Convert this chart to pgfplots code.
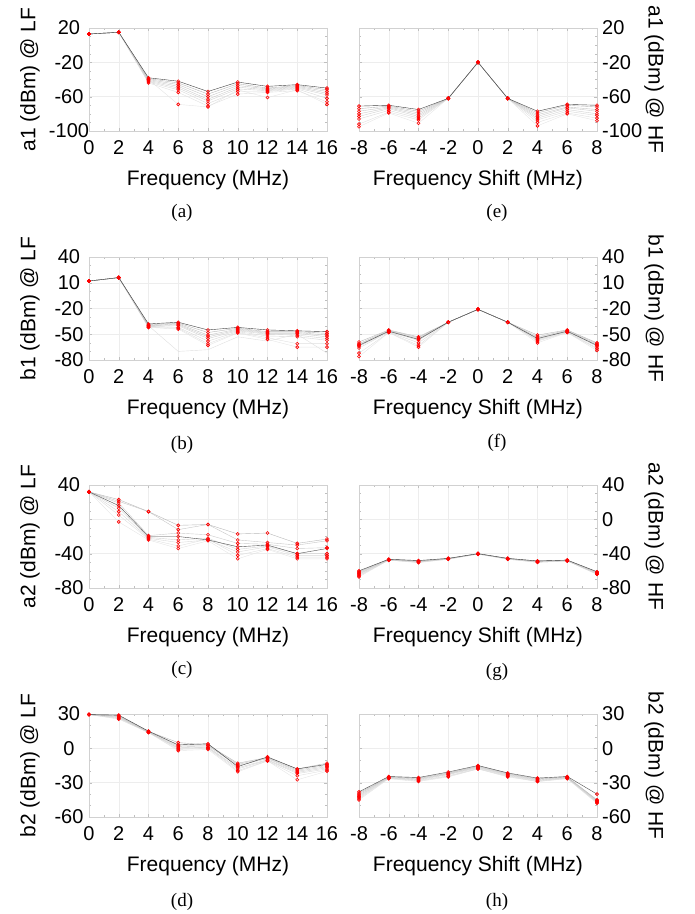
\documentclass[border=0pt]{standalone}
\usepackage{fontspec}
\setmainfont{Liberation Sans}
\newfontfamily\capfont{Liberation Serif}
\usepackage{pgfplots}
\pgfplotsset{compat=1.18}

\pgfplotsset{
  s/.style={color=#1, line width=0.4pt, mark=o, mark size=1.5pt,
    mark options={color=red, line width=0.6pt}},
  nm/.style={color=#1, line width=0.4pt, mark=none},
  panel/.style={
    scale only axis, width=238pt, height=103pt, anchor=south west, clip=false,
    axis line style={black!18}, grid=major, major grid style={black!7},
    tick style={black!25}, tick align=inside,
    major tick length=3pt, minor tick length=2pt, minor x tick num=1,
    ticklabel style={font=\fontsize{20}{22}\selectfont},
    /pgf/number format/assume math mode=true,
    label style={font=\fontsize{21}{24}\selectfont},
    xticklabel style={yshift=-6pt},
    xlabel style={at={(axis description cs:0.5,0)}, anchor=center, yshift=-49pt},
  },
  lf/.style={panel, xmin=0, xmax=16, xtick={0,2,...,16},
    xlabel={Frequency (MHz)},
    yticklabel style={anchor=center, xshift=-20pt},
    ylabel style={at={(axis description cs:-0.248,0.5)}, anchor=center}},
  hf/.style={panel, xmin=-8, xmax=8, xtick={-8,-6,...,8},
    xlabel={Frequency Shift (MHz)}, yticklabel pos=right,
    yticklabel style={anchor=west, inner sep=0pt, xshift=5pt},
    ylabel style={at={(axis description cs:1.24,0.5)}, anchor=center, rotate=180}},
  ra/.style={ymin=-100, ymax=20, ytick={20,-20,-60,-100}, minor y tick num=3},
  rb/.style={ymin=-80, ymax=40, ytick={40,10,-20,-50,-80}, minor y tick num=2},
  rc/.style={ymin=-80, ymax=40, ytick={40,0,-40,-80}, minor y tick num=3},
  rd/.style={ymin=-60, ymax=30, ytick={30,0,-30,-60}, minor y tick num=2},
}
\newcommand{\lfx}[2]{\addplot[s=#1] coordinates {#2};}

\begin{document}
\begin{tikzpicture}
\useasboundingbox (0,0) rectangle (695pt,914pt);

% (a) a1 @ LF
\begin{axis}[lf, ra, at={(89pt,783pt)}, ylabel={a1 (dBm) @ LF}]
\lfx{gray!20}{(0,13)(2,15)(4,-40)(6,-69)(8,-72)(10,-52)(12,-61)(14,-52)(16,-69)}
\lfx{gray!25}{(0,13)(2,15)(4,-44)(6,-55)(8,-71)(10,-57)(12,-55)(14,-53)(16,-66)}
\lfx{gray!30}{(0,13)(2,15)(4,-43)(6,-52)(8,-68)(10,-54)(12,-54)(14,-51)(16,-62)}
\lfx{gray!35}{(0,13)(2,15)(4,-42)(6,-50)(8,-65)(10,-51)(12,-53)(14,-50)(16,-58)}
\lfx{gray!40}{(0,13)(2,15)(4,-41)(6,-48)(8,-63)(10,-49)(12,-52)(14,-49)(16,-56)}
\lfx{gray!45}{(0,13)(2,15)(4,-40)(6,-46)(8,-60)(10,-47)(12,-51)(14,-48)(16,-54)}
\lfx{gray!55}{(0,13)(2,15)(4,-39)(6,-44)(8,-57)(10,-45)(12,-50)(14,-47)(16,-52)}
\lfx{black!75}{(0,13)(2,15)(4,-38)(6,-42)(8,-54)(10,-43)(12,-48)(14,-46)(16,-50)}
\end{axis}

% (e) a1 @ HF
\begin{axis}[hf, ra, at={(359pt,783pt)}, ylabel={a1 (dBm) @ HF}]
\lfx{gray!20}{(-8,-95)(-6,-79)(-4,-91)(-2,-62)(0,-20)(2,-62)(4,-94)(6,-80)(8,-88)}
\lfx{gray!25}{(-8,-92)(-6,-78)(-4,-87)(-2,-62)(0,-20)(2,-62)(4,-90)(6,-79)(8,-85)}
\lfx{gray!30}{(-8,-86)(-6,-76)(-4,-85)(-2,-62)(0,-20)(2,-62)(4,-87)(6,-77)(8,-82)}
\lfx{gray!35}{(-8,-83)(-6,-74)(-4,-83)(-2,-62)(0,-20)(2,-62)(4,-85)(6,-75)(8,-80)}
\lfx{gray!40}{(-8,-80)(-6,-73)(-4,-81)(-2,-62)(0,-20)(2,-62)(4,-83)(6,-73)(8,-77)}
\lfx{gray!45}{(-8,-77)(-6,-72)(-4,-79)(-2,-62)(0,-20)(2,-62)(4,-81)(6,-72)(8,-75)}
\lfx{gray!55}{(-8,-74)(-6,-71)(-4,-77)(-2,-62)(0,-20)(2,-62)(4,-79)(6,-70)(8,-72)}
\lfx{black!75}{(-8,-71)(-6,-70)(-4,-75)(-2,-62)(0,-20)(2,-62)(4,-77)(6,-69)(8,-70)}
\end{axis}

% (b) b1 @ LF
\begin{axis}[lf, rb, at={(89pt,554pt)}, ylabel={b1 (dBm) @ LF}]
\addplot[nm=gray!25] coordinates {(0,12)(2,16)(4,-40)(6,-70)(8,-68)(10,-53)(12,-58)(14,-50)(16,-72)};
\lfx{gray!20}{(0,12)(2,16)(4,-42)(6,-44)(8,-63)(10,-48.5)(12,-56)(14,-65)(16,-65)}
\lfx{gray!25}{(0,12)(2,16)(4,-42)(6,-43)(8,-61)(10,-48)(12,-54)(14,-61)(16,-61)}
\lfx{gray!30}{(0,12)(2,16)(4,-41)(6,-42)(8,-58)(10,-47)(12,-52)(14,-53)(16,-57)}
\lfx{gray!35}{(0,12)(2,16)(4,-41)(6,-40)(8,-55)(10,-46)(12,-50)(14,-51)(16,-55)}
\lfx{gray!40}{(0,12)(2,16)(4,-40)(6,-39)(8,-53)(10,-45)(12,-49)(14,-49)(16,-53)}
\lfx{gray!45}{(0,12)(2,16)(4,-40)(6,-38)(8,-51)(10,-44)(12,-48)(14,-48)(16,-51)}
\lfx{gray!55}{(0,12)(2,16)(4,-39)(6,-37)(8,-48)(10,-43)(12,-47)(14,-47)(16,-49)}
\lfx{black!75}{(0,12)(2,16)(4,-38)(6,-36)(8,-45)(10,-42)(12,-45)(14,-46)(16,-47)}
\end{axis}

% (f) b1 @ HF
\begin{axis}[hf, rb, at={(359pt,554pt)}, ylabel={b1 (dBm) @ HF}]
\lfx{gray!20}{(-8,-76)(-6,-48)(-4,-65)(-2,-36)(0,-21)(2,-36)(4,-60)(6,-48)(8,-69)}
\lfx{gray!25}{(-8,-72)(-6,-48)(-4,-63)(-2,-36)(0,-21)(2,-36)(4,-58)(6,-48)(8,-67)}
\lfx{gray!30}{(-8,-66)(-6,-47.5)(-4,-60)(-2,-36)(0,-21)(2,-36)(4,-57)(6,-47.5)(8,-66)}
\lfx{gray!35}{(-8,-64)(-6,-47)(-4,-57)(-2,-36)(0,-21)(2,-36)(4,-56)(6,-47)(8,-64)}
\lfx{gray!40}{(-8,-62)(-6,-46)(-4,-55)(-2,-36)(0,-21)(2,-36)(4,-54)(6,-46)(8,-62)}
\lfx{gray!45}{(-8,-61)(-6,-45.5)(-4,-54)(-2,-36)(0,-21)(2,-36)(4,-53)(6,-45.5)(8,-61)}
\lfx{gray!55}{(-8,-59)(-6,-45)(-4,-53)(-2,-36)(0,-21)(2,-36)(4,-51)(6,-45)(8,-60)}
\lfx{black!75}{(-8,-63)(-6,-46.5)(-4,-56)(-2,-36)(0,-21)(2,-36)(4,-55)(6,-46.5)(8,-63)}
\end{axis}

% (c) a2 @ LF
\begin{axis}[lf, rc, at={(89pt,326pt)}, ylabel={a2 (dBm) @ LF}]
\lfx{gray!20}{(0,32)(2,-3)(4,-24)(6,-34)(8,-25)(10,-46)(12,-35)(14,-46)(16,-46)}
\lfx{gray!25}{(0,32)(2,5)(4,-23)(6,-31)(8,-23)(10,-42)(12,-34)(14,-44)(16,-44)}
\lfx{gray!30}{(0,32)(2,9)(4,-22)(6,-27)(8,-24)(10,-38)(12,-32)(14,-42)(16,-42)}
\lfx{gray!35}{(0,32)(2,13)(4,-21)(6,-24)(8,-22)(10,-35)(12,-31)(14,-40)(16,-40)}
\lfx{gray!40}{(0,32)(2,19)(4,-19)(6,-16)(8,-18)(10,-28)(12,-29)(14,-34)(16,-33)}
\lfx{gray!45}{(0,32)(2,21)(4,9)(6,-12)(8,-6)(10,-24)(12,-27)(14,-30)(16,-25)}
\lfx{gray!55}{(0,32)(2,23)(4,9)(6,-7)(8,-6)(10,-17)(12,-16)(14,-28)(16,-23)}
\lfx{black!70}{(0,32)(2,16)(4,-20)(6,-20)(8,-24)(10,-32)(12,-30)(14,-40)(16,-34)}
\end{axis}

% (g) a2 @ HF
\begin{axis}[hf, rc, at={(359pt,326pt)}, ylabel={a2 (dBm) @ HF}]
\lfx{gray!20}{(-8,-67)(-6,-47.5)(-4,-50.5)(-2,-46.5)(0,-40.5)(2,-46.5)(4,-50)(6,-48.5)(8,-64)}
\lfx{gray!25}{(-8,-66)(-6,-47.5)(-4,-50)(-2,-46.5)(0,-40.5)(2,-46.5)(4,-50)(6,-48.5)(8,-64)}
\lfx{gray!30}{(-8,-65)(-6,-47.5)(-4,-50)(-2,-46)(0,-40.5)(2,-46)(4,-50)(6,-48.5)(8,-63.5)}
\lfx{gray!35}{(-8,-64)(-6,-47)(-4,-49.5)(-2,-46)(0,-40)(2,-46)(4,-49.5)(6,-48)(8,-63)}
\lfx{gray!40}{(-8,-63)(-6,-47)(-4,-49)(-2,-46)(0,-40)(2,-46)(4,-49)(6,-48)(8,-62.5)}
\lfx{gray!45}{(-8,-62)(-6,-47)(-4,-49)(-2,-46)(0,-40)(2,-46)(4,-49)(6,-48)(8,-62)}
\lfx{gray!55}{(-8,-61)(-6,-46.5)(-4,-48.5)(-2,-45.5)(0,-40)(2,-45.5)(4,-48.5)(6,-47.5)(8,-61.5)}
\lfx{black!75}{(-8,-60)(-6,-46.5)(-4,-48)(-2,-45.5)(0,-40)(2,-45.5)(4,-48.5)(6,-47.5)(8,-61)}
\end{axis}

% (d) b2 @ LF
\begin{axis}[lf, rd, at={(89pt,97pt)}, ylabel={b2 (dBm) @ LF}]
\lfx{gray!20}{(0,29.5)(2,25.5)(4,13.8)(6,-2)(8,-1)(10,-20.5)(12,-11)(14,-27.5)(16,-20)}
\lfx{gray!25}{(0,29.5)(2,26)(4,13.8)(6,-1)(8,0)(10,-19.5)(12,-11)(14,-24)(16,-19)}
\lfx{gray!30}{(0,29.5)(2,26.5)(4,14)(6,0)(8,0.5)(10,-18)(12,-10.5)(14,-22)(16,-18)}
\lfx{gray!35}{(0,29.5)(2,27)(4,14)(6,0.5)(8,1)(10,-17)(12,-10)(14,-21)(16,-17)}
\lfx{gray!40}{(0,29.5)(2,27.5)(4,14.2)(6,1.5)(8,2)(10,-15)(12,-9)(14,-20)(16,-16)}
\lfx{gray!45}{(0,29.5)(2,28)(4,14.5)(6,2.5)(8,2.5)(10,-14)(12,-8.5)(14,-19)(16,-15)}
\lfx{gray!55}{(0,29.5)(2,28.5)(4,14.8)(6,5)(8,3)(10,-13)(12,-8)(14,-18)(16,-13)}
\lfx{black!75}{(0,29.5)(2,29)(4,15)(6,3)(8,4)(10,-16)(12,-7.5)(14,-18)(16,-14)}
\end{axis}

% (h) b2 @ HF
\begin{axis}[hf, rd, at={(359pt,97pt)}, ylabel={b2 (dBm) @ HF}]
\lfx{gray!20}{(-8,-45)(-6,-26.6)(-4,-29)(-2,-25)(0,-18)(2,-25)(4,-29)(6,-26.6)(8,-48)}
\lfx{gray!25}{(-8,-44)(-6,-26.3)(-4,-28.5)(-2,-24.5)(0,-18)(2,-24.5)(4,-29)(6,-26.3)(8,-47.5)}
\lfx{gray!30}{(-8,-43)(-6,-26)(-4,-28)(-2,-24)(0,-17.5)(2,-24)(4,-28.5)(6,-26)(8,-47)}
\lfx{gray!35}{(-8,-42)(-6,-25.8)(-4,-27.5)(-2,-23)(0,-17)(2,-23.5)(4,-28)(6,-25.8)(8,-46.5)}
\lfx{gray!40}{(-8,-41)(-6,-25.5)(-4,-27)(-2,-22.5)(0,-16.5)(2,-23)(4,-27.5)(6,-25.5)(8,-46)}
\lfx{gray!45}{(-8,-40)(-6,-25.2)(-4,-26.5)(-2,-22)(0,-16)(2,-22.5)(4,-27)(6,-25.2)(8,-45.5)}
\lfx{gray!55}{(-8,-39)(-6,-25)(-4,-26)(-2,-21.5)(0,-15.5)(2,-22)(4,-26.5)(6,-25)(8,-45)}
\lfx{black!70}{(-8,-38)(-6,-24.6)(-4,-25.5)(-2,-20.7)(0,-15)(2,-21.5)(4,-26)(6,-24.6)(8,-40)}
\end{axis}

\begin{scope}[every node/.style={font=\capfont\fontsize{19}{22}\selectfont}]
\node at (182pt,701pt) {(a)};
\node at (497pt,701pt) {(e)};
\node at (182pt,469pt) {(b)};
\node at (497pt,471pt) {(f)};
\node at (182pt,244pt) {(c)};
\node at (497pt,242pt) {(g)};
\node at (182pt,12pt) {(d)};
\node at (497pt,12pt) {(h)};
\end{scope}
\end{tikzpicture}
\end{document}
